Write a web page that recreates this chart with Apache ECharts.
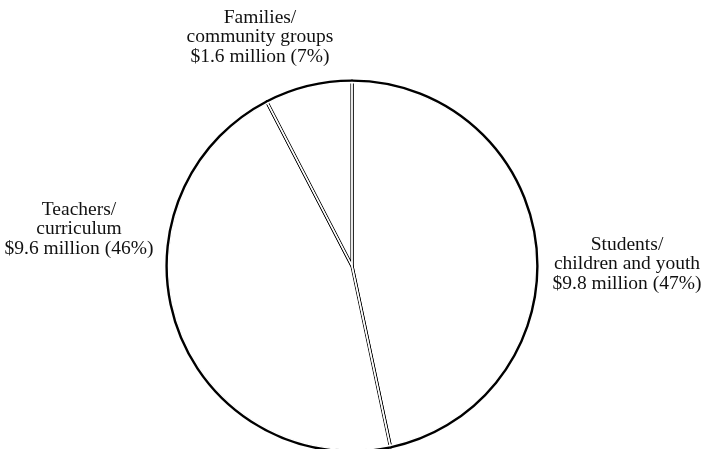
<!DOCTYPE html>
<html>
<head>
<meta charset="utf-8">
<script src="https://cdn.jsdelivr.net/npm/echarts@6/dist/echarts.min.js"></script>
<style>
  html, body { margin: 0; padding: 0; background: #fff; }
  #chart { width: 707px; height: 449px; }
</style>
</head>
<body>
<div id="chart"></div>
<script>
// Funding by recipient group, in millions of dollars (clockwise from the top)
const categories = ['Students/\nchildren and youth', 'Teachers/\ncurriculum', 'Families/\ncommunity groups'];
const amounts = [9.8, 9.6, 1.6];
const shareLabels = ['47%', '46%', '7%'];

const data = categories.map((name, i) => ({ name: name, value: amounts[i] }));

// Where each label block is centred
const labelSpots = [[627, 264], [79, 229], [260, 37]];

const chart = echarts.init(document.getElementById('chart'), null, { renderer: 'canvas' });

const center = [352, 266];
const R = 185;

chart.setOption({
  animation: false,
  backgroundColor: '#fff',
  series: [
    {
      type: 'pie',
      center: center,
      radius: [0, R],
      startAngle: 90,
      clockwise: true,
      data: data,
      itemStyle: { color: '#fff', borderColor: '#000', borderWidth: 3.2 },
      emphasis: { disabled: true },
      labelLine: { show: false },
      label: {
        show: true,
        position: 'outside',
        overflow: 'none',
        color: '#111',
        fontFamily: 'Liberation Serif',
        fontSize: 19.5,
        lineHeight: 19.5,
        align: 'center',
        formatter: p => p.name + '\n$' + p.value.toFixed(1) + ' million (' + shareLabels[p.dataIndex] + ')'
      },
      labelLayout: p => ({
        x: labelSpots[p.dataIndex][0],
        y: labelSpots[p.dataIndex][1],
        align: 'center',
        verticalAlign: 'middle',
        width: 200
      })
    },
    {
      // white core inside each divider, giving the double-rule edges
      type: 'pie',
      silent: true,
      center: center,
      radius: [0, R - 1.5],
      startAngle: 90,
      clockwise: true,
      data: data,
      itemStyle: { color: 'rgba(0,0,0,0)', borderColor: '#fff', borderWidth: 1.4 },
      emphasis: { disabled: true },
      label: { show: false },
      labelLine: { show: false }
    }
  ]
});
</script>
</body>
</html>
